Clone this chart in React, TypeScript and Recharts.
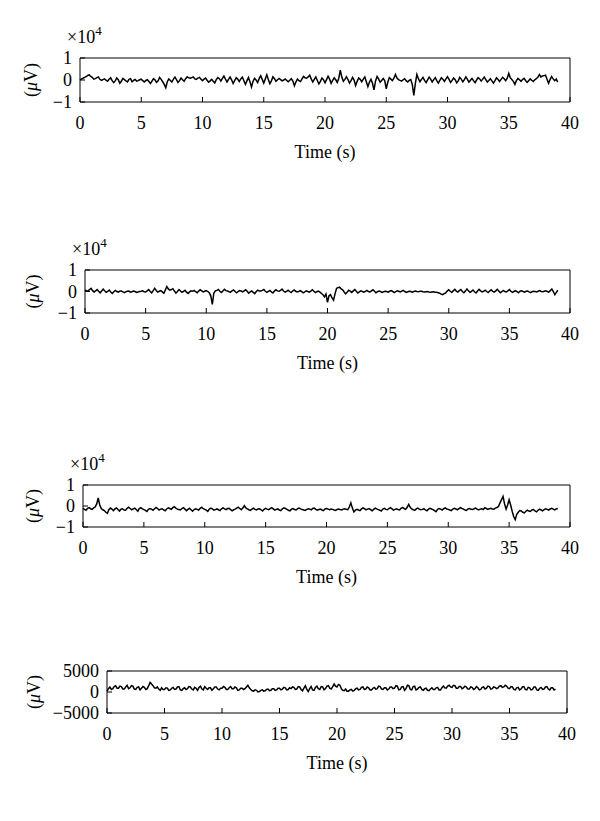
import React from 'react';
import { LineChart, Line, XAxis, YAxis } from 'recharts';

const SAMPLE_INTERVAL = 0.125; // seconds between samples
const UNIT = 100; // channel values are in hundreds of µV

const timeTicks = [0, 5, 10, 15, 20, 25, 30, 35, 40];
const scaledTicks = [-10000, 0, 10000];
const smallTicks = [-5000, 0, 5000];

// one row = 5 s
const channel1 = [
  0, 5, 8, 12, 15, 21, 23, 16, 12, 4, 6, 11, 14, 3, -2, 2, 5, -1, -6, 3, 10, -3, -12, -4, 9, 1, -15, -6, 7, 2, -4, -9, 3, 6, -8, -2, 2, -5, -3, 1,
  4, -3, -9, -2, 1, -7, -16, -5, 6, 0, -11, -4, 12, 3, -8, -20, -35, -8, 5, -2, -9, 4, 13, 2, -11, -3, 9, 1, -6, 6, 15, 10, 8, 11, 14, 5, 3, 9, 12, 4,
  -3, 4, 9, -1, -10, -4, 3, -6, -13, 2, 11, 6, -5, 7, 18, 4, -9, 3, 14, 1, -16, -3, 10, 4, -7, 5, 13, -2, -20, -4, 11, -8, -32, -6, 8, 0, -12, 6, 19, 3,
  -14, 5, 24, 2, -17, -4, 15, 6, -6, 1, 7, 2, -4, 0, 5, -2, -8, -1, 6, -5, -26, -9, 4, -3, -7, 5, 16, 10, 8, 14, 22, 5, -9, 3, 14, -2, -18, -6, 9, 1,
  -13, 2, 17, 4, -15, -2, 10, 1, -11, 8, 45, 12, -6, 3, 15, 2, -14, -3, 12, 0, -25, -6, 9, 3, -8, 4, 14, -8, -30, -10, 3, -15, -45, -4, 16, 5, -10, -2, 7, -3,
  -40, -10, 11, 4, -3, 8, 25, 9, 2, -2, -5, 1, 6, -3, -9, -2, 2, -20, -70, -15, 25, 6, -8, 3, 12, -2, -12, 1, 13, 4, -9, 2, 11, -3, -14, -2, 10, 3, -6, 5,
  15, 3, -11, -2, 9, 1, -13, -4, 12, 4, -8, 2, 14, 3, -10, -1, 7, -3, -12, 0, 11, 5, -5, 4, 13, 2, -9, -2, 6, -4, -14, -3, 10, 2, -7, 3, 12, 6, -3, 8,
  30, 10, 2, -6, -20, -3, 7, 1, -6, 2, 8, -2, -11, -3, 5, -1, -7, 1, 6, 12, 25, 14, 18, 20, 22, 3, -15, 2, 16, 5, -3, 4, -10,
];

const channel2 = [
  8, 2, 3, 9, 15, 4, -2, 3, 9, 1, -6, 2, 11, 3, -4, 1, 7, -2, -9, -1, 5, 0, -3, 2, 2, -2, -5, -1, 1, 2, -3, -1, 2, 0, -4, -2, 0, 1, 3, -1,
  -2, 3, 9, 0, -6, 4, 15, 5, -3, 1, 4, -2, -8, 6, 23, 12, 6, 9, 13, 2, -7, 0, 9, 2, -4, 1, 6, -3, -9, -2, 3, 1, 5, -1, -6, 2, 8, 3, -2, 1,
  4, 0, -6, -20, -60, -8, 3, 5, 9, 1, -5, 2, 10, 4, 2, -1, -3, 3, 7, 0, -6, -1, 4, 2, -2, 3, 8, 1, -8, -2, 3, -4, -10, 0, 6, 2, 2, 5, 9, 1,
  -4, 1, 5, -2, -7, 2, 8, 3, 1, 5, 11, 2, -3, 1, 6, 0, -5, 2, 7, 1, -2, 0, 4, -1, -6, -2, 3, 0, -3, 2, 8, 1, -5, -1, 2, -3, -9, -15, -25, -12,
  -50, -20, -15, -30, -40, -10, 15, 18, 20, 12, 8, -2, -11, -3, 6, 2, -4, 3, 9, 1, -7, -2, 3, 0, -3, 1, 5, 0, -2, 3, 8, 1, -6, -1, 2, 0, -4, -1, 1, 0,
  -3, 1, 4, 0, -5, -1, 3, 1, -2, 2, 5, 0, -4, -1, 1, 0, -3, 0, 2, 0, -1, 1, 1, -1, -2, -1, 0, -2, -3, -2, -1, -3, -4, -6, -8, -12, -15, -10, -6, 2,
  8, 1, -5, 3, 10, 2, -3, 4, 9, 0, -6, 2, 12, 3, -4, 1, 7, -1, -7, 2, 10, 3, -2, 1, 6, 0, -5, 2, 8, 1, -3, 3, 10, 2, -6, -1, 5, 0, -2, 3,
  9, 1, -4, 0, 4, -1, -6, 1, 3, 0, -3, 1, 2, -2, -5, -1, 1, 0, -2, 1, 4, 0, -1, 1, 3, 0, -3, 4, 12, 0, -15, -4, 6,
];

const channel3 = [
  -12, -16, -20, -11, -8, -13, -16, -9, -5, 10, 38, 5, -12, -18, -22, -30, -35, -18, -10, -15, -22, -14, -9, -17, -24, -15, -13, -19, -20, -11, -6, -12, -18, -14, -10, -17, -25, -12, -8, -14,
  -17, -21, -26, -16, -12, -15, -20, -13, -7, -12, -19, -15, -13, -18, -23, -14, -9, -12, -16, -8, -3, -10, -15, -17, -19, -12, -8, -15, -22, -16, -11, -18, -25, -17, -13, -16, -19, -11, -6, -13,
  -16, -20, -26, -15, -10, -14, -20, -17, -14, -18, -22, -13, -9, -14, -17, -12, -11, -17, -23, -18, -15, -10, -6, -12, -18, -10, 2, -9, -14, -18, -21, -15, -10, -16, -19, -14, -13, -18, -24, -16,
  -11, -15, -17, -12, -8, -14, -20, -16, -14, -19, -22, -13, -9, -12, -16, -20, -23, -15, -12, -17, -19, -13, -10, -14, -17, -19, -21, -16, -13, -15, -18, -12, -10, -16, -20, -17, -15, -19, -22, -14,
  -12, -15, -18, -14, -16, -19, -21, -16, -14, -17, -19, -15, -13, -16, -17, -5, 15, -10, -28, -20, -16, -19, -22, -14, -9, -13, -18, -15, -12, -17, -23, -16, -10, -14, -17, -20, -24, -15, -11, -16,
  -18, -12, -8, -14, -20, -16, -13, -17, -19, -11, -7, -12, -16, -6, 8, -6, -14, -18, -21, -14, -10, -15, -18, -16, -13, -19, -23, -15, -11, -14, -17, -22, -27, -16, -12, -15, -19, -13, -9, -14,
  -16, -19, -22, -15, -11, -14, -18, -13, -8, -12, -15, -19, -21, -14, -12, -16, -17, -13, -10, -15, -19, -15, -13, -17, -8, -12, -16, -13, -11, -14, -15, -10, -7, -2, 15, 30, 46, 10, -15, 5,
  30, 5, -25, -50, -65, -40, -30, -22, -24, -30, -33, -25, -20, -24, -26, -19, -17, -23, -28, -20, -15, -19, -23, -17, -13, -16, -20, -14, -11, -15, -19, -14, -12,
];

const channel4 = [
  2, 8, 12, 6, 8, 13, 15, 9, 9, 14, 13, 7, 7, 12, 16, 8, 10, 15, 14, 7, 6, 11, 12, 5, 9, 13, 11, 6, 8, 15, 23, 19, 15, 10, 9, 12, 7, 4, 10, 6,
  6, 10, 9, 4, 5, 9, 11, 6, 7, 12, 13, 5, 4, 8, 10, 6, 8, 13, 12, 7, 5, 11, 9, 4, 11, 14, 7, 5, 13, 9, 6, 10, 10, 4, 8, 12, 12, 7, 5, 9,
  9, 13, 11, 6, 6, 10, 13, 8, 8, 12, 10, 4, 5, 9, 9, 6, 8, 12, 16, 10, 6, 3, 2, 5, 4, 0, 1, 4, 5, 2, 3, 6, 7, 3, 4, 8, 8, 4, 5, 9,
  9, 5, 7, 11, 10, 5, 6, 10, 8, 12, 11, 6, 7, 13, 12, 6, 3, 9, 15, 6, 1, 8, 13, 5, 4, 11, 14, 8, 6, 13, 12, 5, 8, 14, 15, 9, 7, 13, 19, 14,
  12, 18, 16, 8, 4, 3, 7, 2, 2, 5, 6, 2, 4, 8, 9, 5, 6, 11, 12, 6, 7, 12, 10, 5, 5, 9, 11, 7, 8, 14, 13, 7, 6, 10, 10, 5, 7, 12, 12, 8,
  9, 15, 14, 5, 6, 12, 13, 4, 8, 16, 15, 6, 5, 13, 14, 5, 7, 11, 12, 6, 4, 8, 9, 4, 3, 7, 10, 6, 6, 10, 11, 5, 5, 10, 14, 10, 9, 14, 16, 12,
  11, 16, 15, 9, 9, 13, 13, 8, 10, 14, 12, 7, 7, 12, 11, 6, 8, 13, 10, 5, 6, 11, 12, 7, 9, 14, 13, 7, 8, 12, 11, 8, 10, 14, 15, 11, 12, 16, 14, 9,
  8, 13, 12, 6, 5, 10, 11, 5, 7, 12, 13, 6, 5, 11, 10, 5, 6, 12, 12, 5, 4, 9, 11, 6, 7, 12, 13, 7, 5, 10, 10, 5, 7,
];

const FONT = '"Liberation Serif", "Times New Roman", serif';
const FONT_SIZE = 18;

const toRows = (values: number[]) => values.map((v, i) => ({ t: i * SAMPLE_INTERVAL, v: v * UNIT }));
const withMinus = (s: string) => s.replace('-', '\u2212');

const TimeLabel = ({ viewBox }: any) => (
  <text
    x={viewBox.x + viewBox.width / 2}
    y={viewBox.y + 50}
    textAnchor="middle"
    dominantBaseline="central"
    fontFamily={FONT}
    fontSize={FONT_SIZE}
    fill="#000"
  >
    Time (s)
  </text>
);

const VoltLabel = ({ viewBox, cx }: any) => {
  const cy = viewBox.y + viewBox.height / 2;
  return (
    <text
      x={cx}
      y={cy}
      transform={`rotate(-90 ${cx} ${cy})`}
      textAnchor="middle"
      dominantBaseline="central"
      fontFamily={FONT}
      fontSize={FONT_SIZE}
      fill="#000"
    >
      (<tspan fontStyle="italic">μ</tspan>V)
    </text>
  );
};

type PanelProps = {
  values: number[];
  top: number;
  bottom: number;
  left: number;
  right: number;
  yTicks: number[];
  scaled: boolean;
  labelX: number;
};

function Panel({ values, top, bottom, left, right, yTicks, scaled, labelX }: PanelProps) {
  const marginTop = 12;
  const xAxisHeight = 64;
  const yAxisWidth = left - 4;
  const plotTop = marginTop + 1;
  const fmt = (v: number) => withMinus(String(scaled ? v / 10000 : v));
  const tickStyle = { fill: '#000', fontSize: FONT_SIZE, fontFamily: FONT };
  const domain = [yTicks[0], yTicks[2]];

  return (
    <div style={{ position: 'absolute', left: 0, top: top - plotTop }}>
      {scaled && (
        <div
          style={{
            position: 'absolute',
            left: left - 13,
            top: plotTop - 31,
            fontFamily: FONT,
            fontSize: FONT_SIZE,
            lineHeight: '20px',
            whiteSpace: 'nowrap',
          }}
        >
          ×10<span style={{ fontSize: 13, position: 'relative', top: -8 }}>4</span>
        </div>
      )}
      <LineChart
        width={600}
        height={plotTop + (bottom - top) + xAxisHeight}
        data={toRows(values)}
        margin={{ top: marginTop, right: 600 - right - 1, bottom: 0, left: 4 }}
      >
        <XAxis
          xAxisId="bottom"
          dataKey="t"
          type="number"
          domain={[0, 40]}
          ticks={timeTicks}
          interval={0}
          tickSize={-5}
          tickMargin={19}
          height={xAxisHeight}
          stroke="#000"
          tick={tickStyle}
          label={<TimeLabel />}
        />
        <XAxis
          xAxisId="top"
          orientation="top"
          dataKey="t"
          type="number"
          domain={[0, 40]}
          ticks={timeTicks}
          interval={0}
          tickSize={-5}
          tick={false}
          height={1}
          stroke="#000"
        />
        <YAxis
          yAxisId="left"
          type="number"
          domain={domain}
          ticks={yTicks}
          interval={0}
          tickSize={-5}
          tickMargin={13}
          width={yAxisWidth}
          stroke="#000"
          tick={tickStyle}
          tickFormatter={fmt}
          label={<VoltLabel cx={labelX} />}
        />
        <YAxis
          yAxisId="right"
          orientation="right"
          type="number"
          domain={domain}
          ticks={yTicks}
          interval={0}
          tickSize={-5}
          tick={false}
          width={1}
          stroke="#000"
        />
        <Line
          xAxisId="bottom"
          yAxisId="left"
          type="linear"
          dataKey="v"
          stroke="#000"
          strokeWidth={1.5}
          dot={false}
          isAnimationActive={false}
        />
      </LineChart>
    </div>
  );
}

export default function App() {
  return (
    <div style={{ position: 'absolute', left: 0, top: 0, width: 600, height: 821, background: '#fff' }}>
      <Panel values={channel1} top={58} bottom={102} left={80} right={570} yTicks={scaledTicks} scaled labelX={31} />
      <Panel values={channel2} top={270} bottom={313} left={85} right={570} yTicks={scaledTicks} scaled labelX={33} />
      <Panel values={channel3} top={485} bottom={527} left={83} right={570} yTicks={scaledTicks} scaled labelX={33} />
      <Panel values={channel4} top={671} bottom={713} left={107} right={567} yTicks={smallTicks} scaled={false} labelX={34} />
    </div>
  );
}
